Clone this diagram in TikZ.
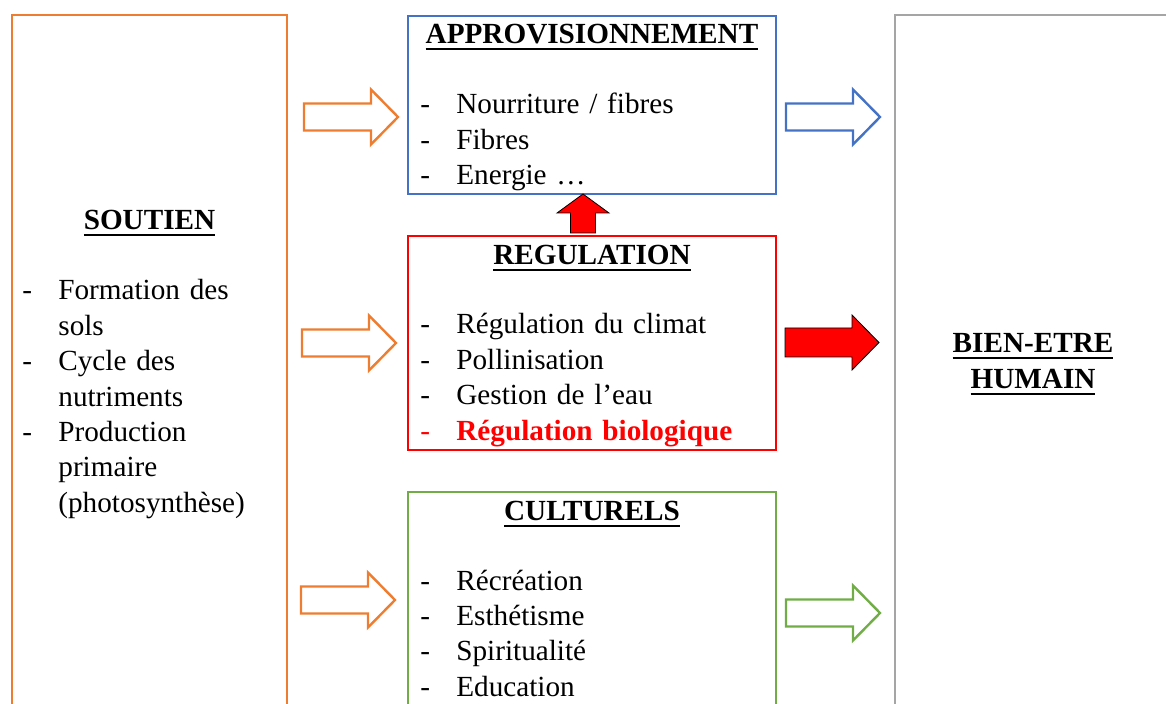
\documentclass[tikz,border=0pt]{standalone}
\usepackage{fontspec}
\setmainfont{Liberation Serif}
\usetikzlibrary{calc}

\definecolor{sorange}{RGB}{237,125,49}
\definecolor{pblue}{RGB}{68,114,196}
\definecolor{cgreen}{RGB}{112,173,71}
\definecolor{bgray}{RGB}{165,165,165}

% titre souligne, tirets de liste
\newcommand{\ulhead}[1]{\leavevmode\hbox{\setbox0\hbox{\textbf{#1}}\rlap{\rule[-3.25pt]{\wd0}{1pt}}\box0}}
\newcommand{\itm}[1]{\makebox[18pt][l]{-}#1}
\newcommand{\cont}[1]{\hspace*{18pt}#1}

\begin{document}
\begin{tikzpicture}[x=0.5pt, y=-0.5pt, line join=miter,
	font=\fontsize{14.6pt}{17.7pt}\selectfont,
	box/.style={draw, rectangle, anchor=north west, inner sep=0pt, outer sep=0pt, line width=1.3pt},
	head/.style={anchor=base, inner sep=0pt},
	liste/.style={anchor=base west, inner sep=0pt, align=left, text width=170pt},
	pics/barrow/.style n args={4}{code={
		\draw[pic actions] (0,-#3) -- (#1-#2,-#3) -- (#1-#2,-#4) -- (#1,0) -- (#1-#2,#4) -- (#1-#2,#3) -- (0,#3) -- cycle;}},
	outarrow/.style={line width=1.2pt}]
	
	% Cadre de l'image
	\clip (0,0) rectangle (1166,704);
	
	% Les cinq cadres
	\node[box, draw=sorange, minimum width=137.5pt, minimum height=380pt] (sout) at (12,15) {};
	\node[box, draw=pblue, minimum width=184pt, minimum height=89pt] (appro) at (408,16) {};
	\node[box, draw=red, minimum width=184pt, minimum height=107pt] (regul) at (408,236) {};
	\node[box, draw=cgreen, minimum width=184pt, minimum height=140pt] (cult) at (408,492) {};
	\node[box, draw=bgray, minimum width=138pt, minimum height=380pt] (bien) at (895,15) {};
	
	% SOUTIEN
	\node[head] (soutT) at ($(sout.north)+(0,215)$) {\ulhead{SOUTIEN}};
	\node[liste] (soutL) at ($(sout.north west)+(10,285)$)
		{\itm{Formation des}\\ \cont{sols}\\ \itm{Cycle des}\\ \cont{nutriments}\\
		 \itm{Production}\\ \cont{primaire}\\ \cont{(photosynthèse)}};
	
	% APPROVISIONNEMENT
	\node[head] (approT) at ($(appro.north)+(0,28)$) {\ulhead{APPROVISIONNEMENT}};
	\node[liste] (approL) at ($(appro.north west)+(12,98)$)
		{\itm{Nourriture / fibres}\\ \itm{Fibres}\\ \itm{Energie …}};
	
	% REGULATION
	\node[head] (regulT) at ($(regul.north)+(0,29)$) {\ulhead{REGULATION}};
	\node[liste] (regulL) at ($(regul.north west)+(12,98)$)
		{\itm{Régulation du climat}\\ \itm{Pollinisation}\\ \itm{Gestion de l’eau}\\
		 \textcolor{red}{\itm{\textbf{Régulation biologique}}}};
	
	% CULTURELS
	\node[head] (cultT) at ($(cult.north)+(0,29)$) {\ulhead{CULTURELS}};
	\node[liste] (cultL) at ($(cult.north west)+(12,98)$)
		{\itm{Récréation}\\ \itm{Esthétisme}\\ \itm{Spiritualité}\\ \itm{Education}};
	
	% BIEN-ETRE HUMAIN
	\node[head, align=center, text width=130pt] (bienT) at ($(bien.north west)+(138,338)$)
		{\ulhead{BIEN-ETRE}\\ \ulhead{HUMAIN}};
	
	% Fleches
	\pic[outarrow, draw=sorange] at (304,117) {barrow={94}{27}{13.5}{27.5}};
	\pic[outarrow, draw=sorange] at (302,343) {barrow={94}{27}{13.5}{27.5}};
	\pic[outarrow, draw=sorange] at (301,600) {barrow={94}{27}{13.5}{27.5}};
	\pic[outarrow, draw=pblue] at (786,117) {barrow={94}{27}{13.5}{27.5}};
	\pic[outarrow, draw=cgreen] at (786,613) {barrow={94}{27}{13.5}{27.5}};
	\pic[fill=red] at (785,342.5) {barrow={94}{27}{14.5}{27.5}};
	\pic[fill=red, rotate=90] at ($(regul.north)+(-9,-3)$) {barrow={39}{19}{12.5}{26}};
\end{tikzpicture}
\end{document}
